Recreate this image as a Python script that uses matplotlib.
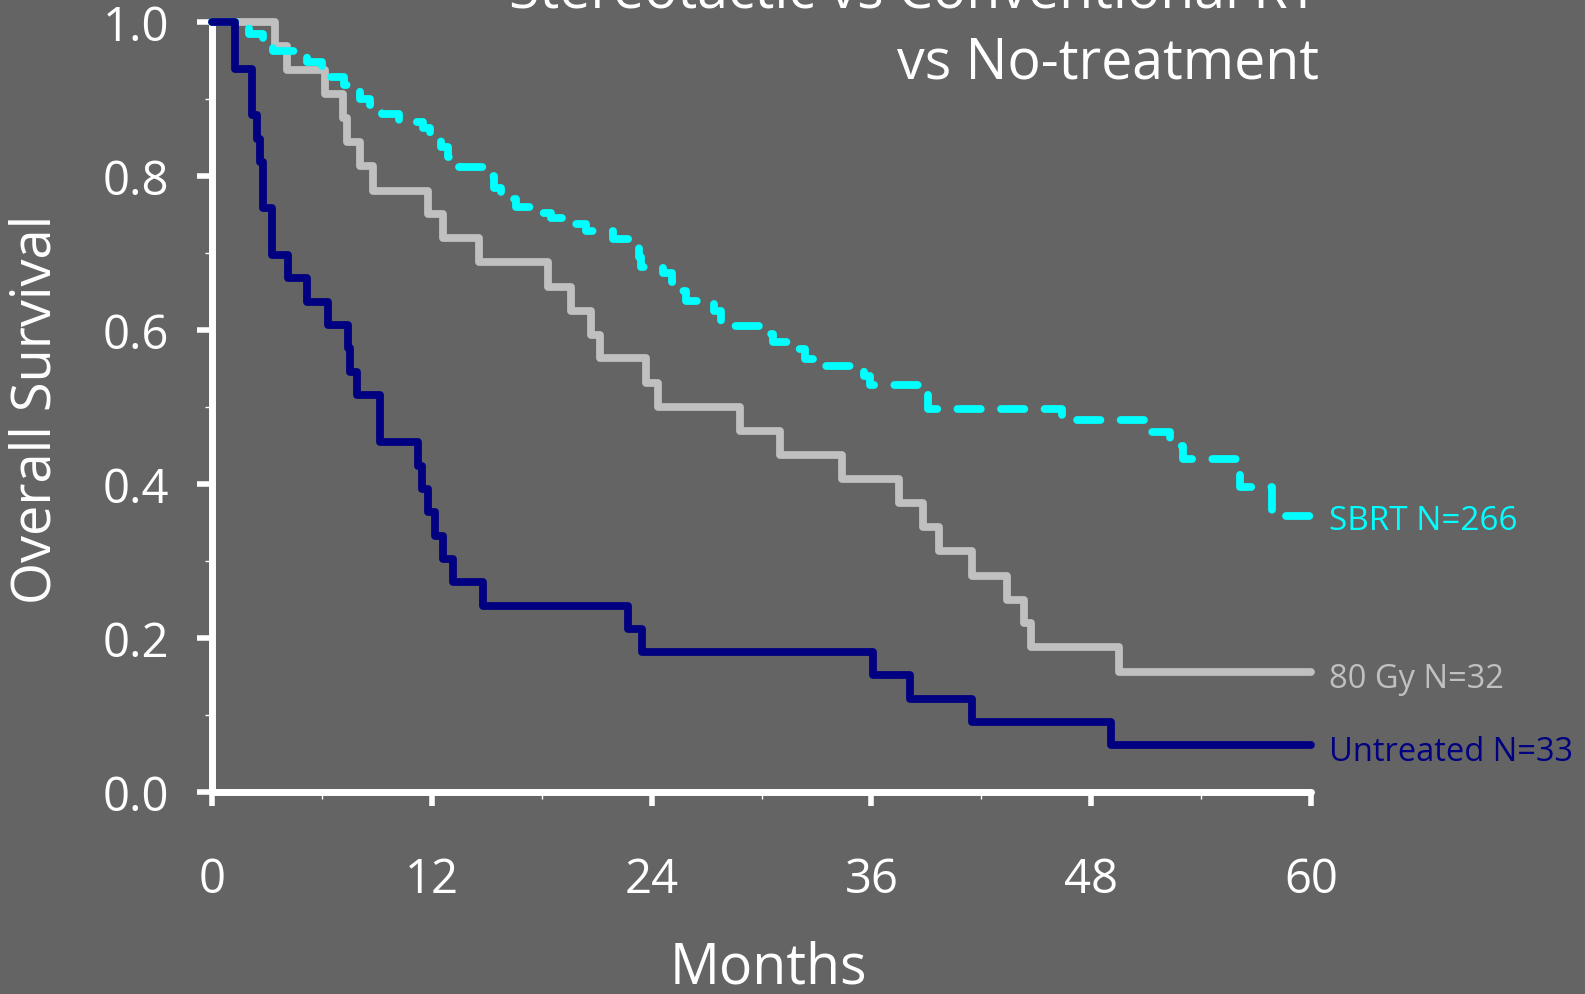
import numpy as np
import matplotlib
matplotlib.use("Agg")
import matplotlib.pyplot as plt
from matplotlib.ticker import MultipleLocator

BG = "#646464"

plt.rcParams.update(
    {
        "font.family": ["Open Sans", "DejaVu Sans"],
        "figure.dpi": 100,
        "axes.spines.top": False,
        "axes.spines.right": False,
    }
)

# Kaplan-Meier step data (months, survival after each drop)
sbrt_months = [0, 1.5, 2.0, 2.8, 3.3, 4.6, 5.2, 6.0, 6.5, 7.2, 7.9, 8.1, 8.6, 9.3,
               10.2, 11.5, 11.9, 12.5, 12.9, 13.5, 15.0, 15.4, 15.8, 16.6, 17.5,
               18.5, 19.8, 20.4, 21.9, 22.9, 23.3, 23.4, 24.6, 25.1, 25.5, 25.9,
               27.4, 27.8, 29.9, 30.6, 32.0, 32.4, 33.5, 35.6, 35.9, 38.7, 39.1,
               46.4, 50.9, 52.3, 53.0, 56.1, 57.9, 60]
sbrt_surv = [1.0, 0.992, 0.985, 0.975, 0.962, 0.955, 0.948, 0.938, 0.928, 0.918,
             0.910, 0.900, 0.892, 0.880, 0.870, 0.862, 0.850, 0.838, 0.825, 0.812,
             0.800, 0.785, 0.770, 0.760, 0.752, 0.745, 0.738, 0.728, 0.718, 0.708,
             0.695, 0.682, 0.674, 0.662, 0.650, 0.638, 0.625, 0.605, 0.595, 0.585,
             0.575, 0.562, 0.553, 0.540, 0.528, 0.518, 0.497, 0.483, 0.468, 0.450,
             0.432, 0.396, 0.358, 0.358]

gy80_months = [0, 3.44, 4.07, 6.16, 7.16, 7.35, 8.07, 8.8, 11.8, 12.6, 14.6, 18.35,
               19.6, 20.7, 21.2, 23.7, 24.35, 28.8, 31.0, 34.4, 37.5, 38.8, 39.7,
               41.5, 43.4, 44.35, 44.7, 49.5, 60]
gy80_surv = [1.0, 0.969, 0.938, 0.906, 0.875, 0.844, 0.813, 0.781, 0.75, 0.719,
             0.688, 0.656, 0.625, 0.594, 0.563, 0.531, 0.5, 0.469, 0.438, 0.406,
             0.375, 0.344, 0.313, 0.281, 0.25, 0.219, 0.188, 0.156, 0.156]

untreated_months = [0, 1.25, 2.2, 2.44, 2.62, 2.8, 3.26, 4.16, 5.16, 6.35, 7.44,
                    7.53, 7.9, 9.17, 11.24, 11.44, 11.8, 12.17, 12.6, 13.17, 14.8,
                    22.7, 23.46, 36.06, 38.1, 41.5, 49.1, 60]
untreated_surv = [1.0, 0.939, 0.879, 0.848, 0.818, 0.758, 0.697, 0.667, 0.636,
                  0.606, 0.576, 0.545, 0.515, 0.455, 0.424, 0.394, 0.364, 0.333,
                  0.303, 0.273, 0.242, 0.212, 0.182, 0.152, 0.121, 0.091, 0.061,
                  0.061]

labels = ["SBRT N=266", "80 Gy N=32", "Untreated N=33"]
label_y = [0.352, 0.147, 0.053]
colors = ["#00ffff", "#c0c0c0", "#000080"]
xticks = [0, 12, 24, 36, 48, 60]
yticks = [0.0, 0.2, 0.4, 0.6, 0.8, 1.0]

fig = plt.figure(figsize=(15.85, 9.95), facecolor=BG)
ax = fig.add_axes([0.1338, 0.2030, 0.6933, 0.7739], facecolor=BG)

lw = 5.6
ax.step(gy80_months, gy80_surv, where="post", color=colors[1], lw=lw,
        solid_capstyle="round", clip_on=False, zorder=3)
ax.step(sbrt_months, sbrt_surv, where="post", color=colors[0], lw=lw,
        linestyle=(0, (3.0, 2.6)), dash_capstyle="round", clip_on=False, zorder=4)
ax.step(untreated_months, untreated_surv, where="post", color=colors[2], lw=lw,
        solid_capstyle="round", clip_on=False, zorder=5)

for text, y, c, fs in zip(labels, label_y, colors, [24, 23.5, 23.5]):
    ax.text(61.0, y, text, color=c, fontsize=fs, va="center", ha="left",
            clip_on=False)

ax.set_xlim(0, 60)
ax.set_ylim(0, 1.0)
ax.set_xticks(xticks)
ax.set_xticklabels([str(t) for t in xticks])
ax.set_yticks(yticks)
ax.set_yticklabels([f"{t:.1f}" for t in yticks])
ax.xaxis.set_minor_locator(MultipleLocator(6))
ax.yaxis.set_minor_locator(MultipleLocator(0.1))

for side in ["left", "bottom"]:
    ax.spines[side].set_color("white")
    ax.spines[side].set_linewidth(5)
    ax.spines[side].set_capstyle("round")

ax.tick_params(axis="x", which="major", colors="white", length=10, width=4,
               pad=36, labelsize=34)
ax.tick_params(axis="y", which="major", colors="white", length=11, width=4,
               pad=20, labelsize=34)
ax.tick_params(which="minor", colors="white", length=5, width=1)

fig.text(0.485, 0.012, "Months", color="white", fontsize=40, ha="center",
         va="baseline")
fig.text(0.023, 0.589, "Overall Survival", color="white", fontsize=39,
         rotation=90, ha="center", va="center")

fig.text(0.832, 0.992, "Stereotactic vs Conventional RT", color="white",
         fontsize=40, ha="right", va="baseline")
fig.text(0.832, 0.9216, "vs No-treatment", color="white", fontsize=40,
         ha="right", va="baseline")

fig.savefig("out.png", dpi=100, facecolor=BG)
